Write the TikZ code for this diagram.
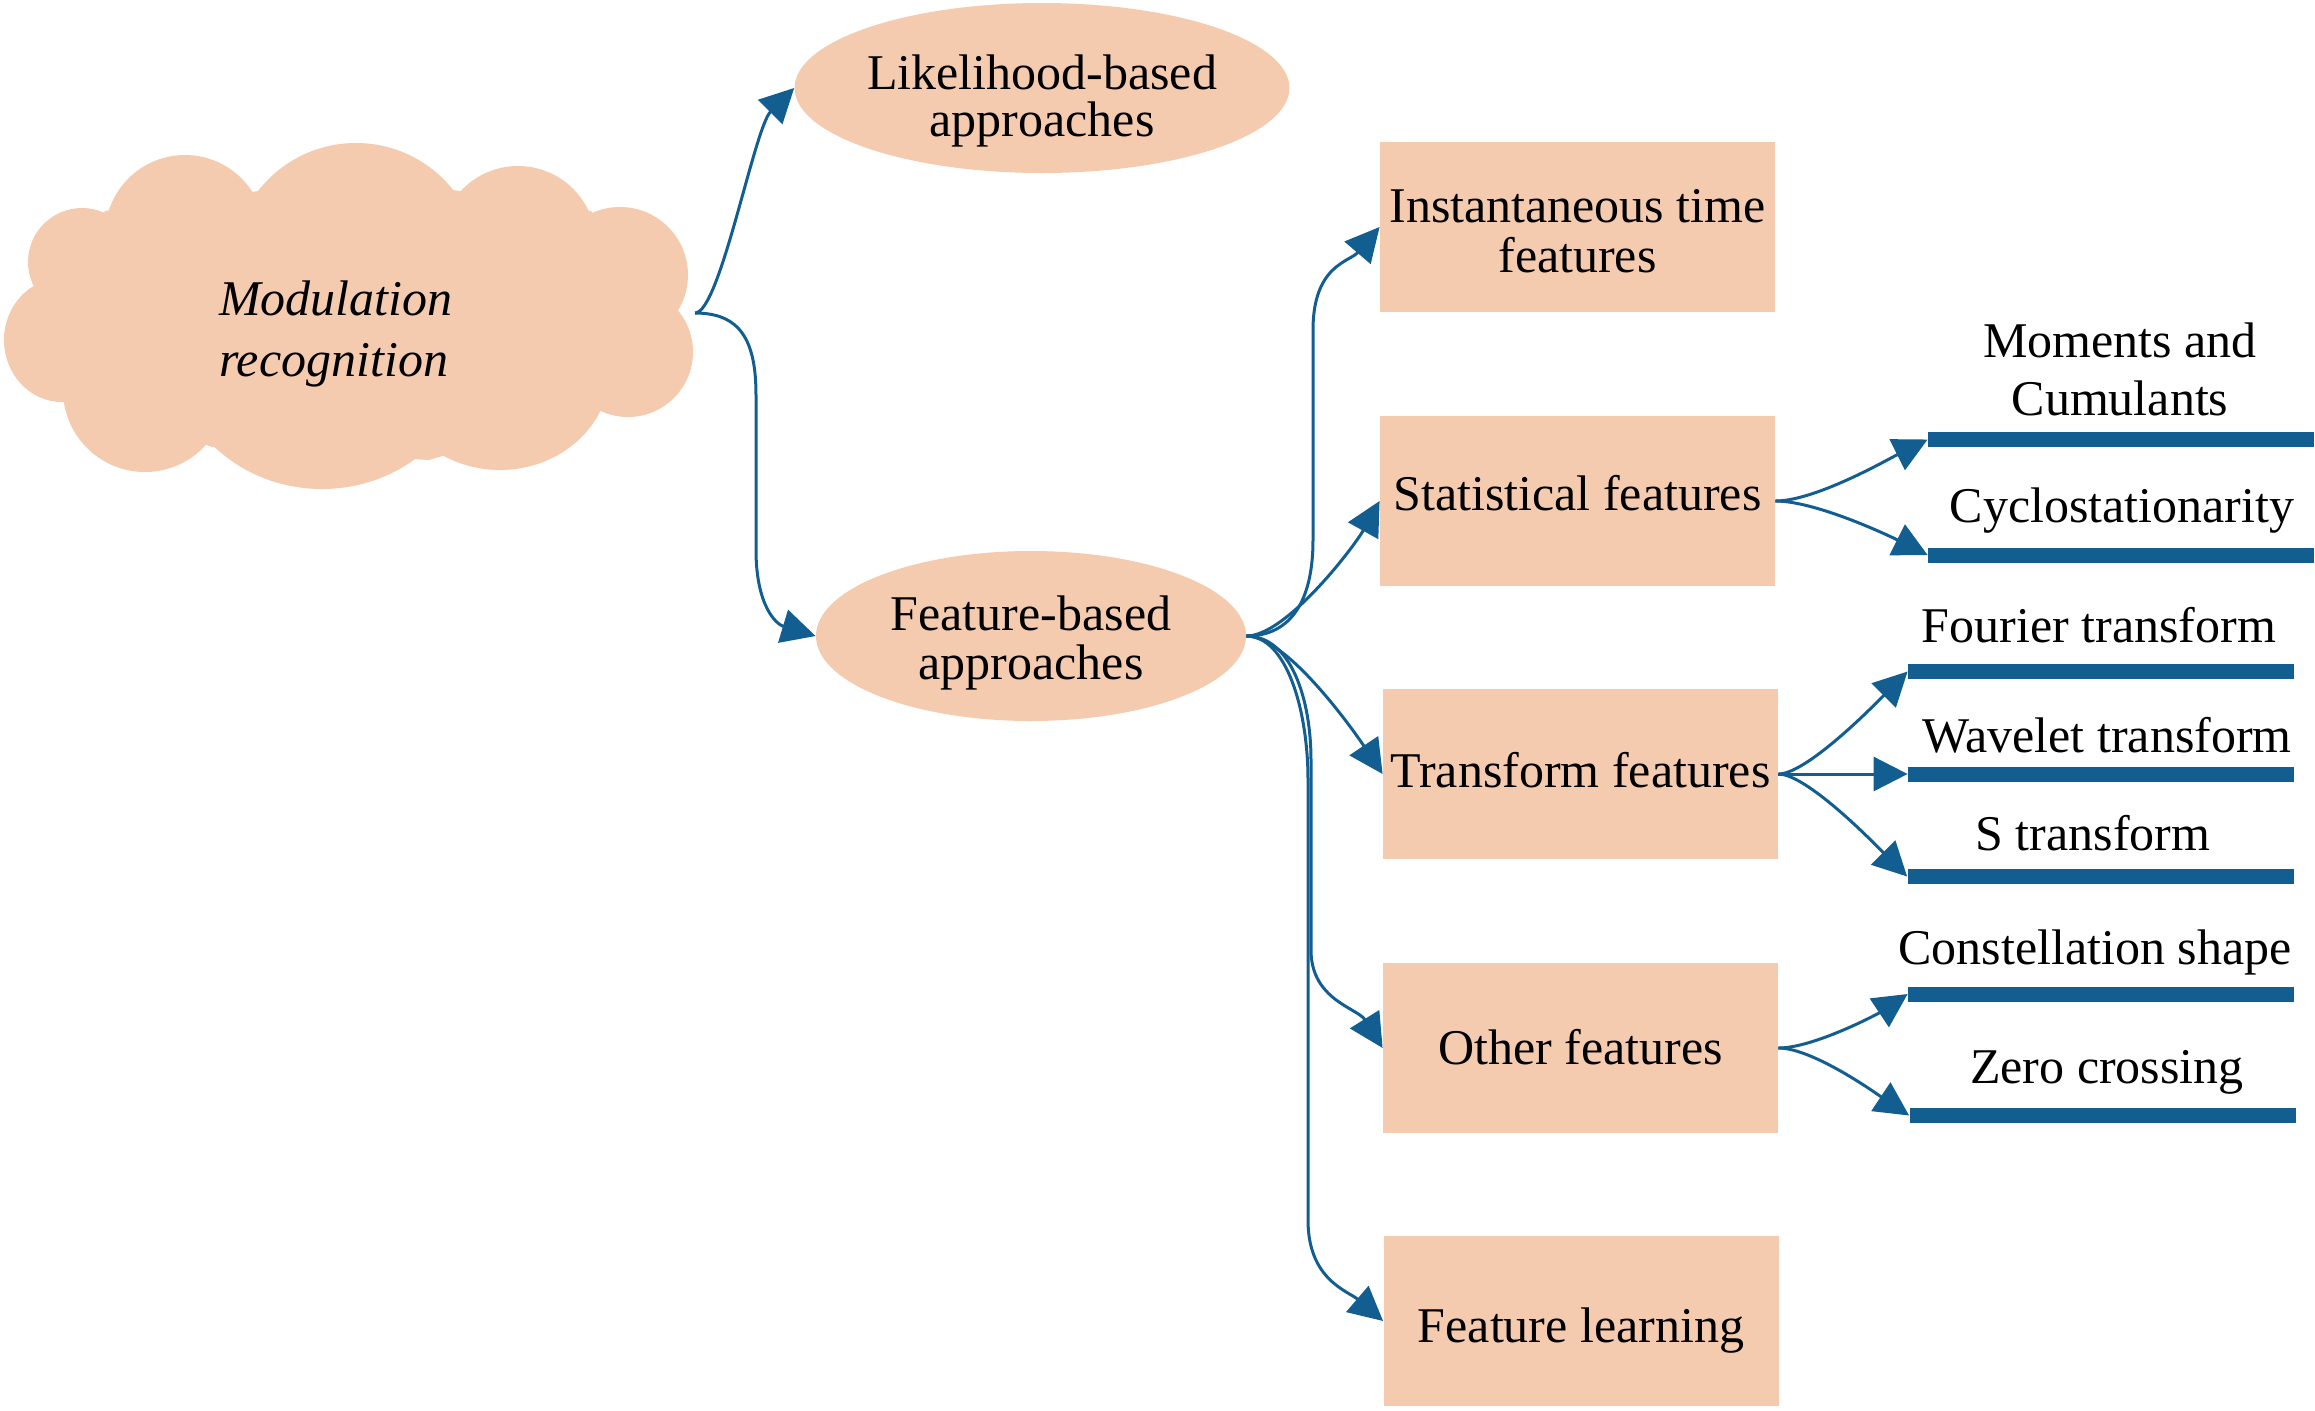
\documentclass[tikz,border=0pt]{standalone}
\usepackage{fontspec}
\setmainfont{Liberation Serif}
\usetikzlibrary{arrows.meta,shapes.geometric}
\definecolor{peach}{RGB}{244,203,175}
\definecolor{navy}{RGB}{19,94,145}
\begin{document}
\begin{tikzpicture}[x=0.5pt,y=-0.5pt,
  ell/.style={ellipse, fill=peach, minimum width=215pt, minimum height=85pt, inner sep=0pt, align=center, font=\fontsize{25}{24}\selectfont},
  box/.style={rectangle, fill=peach, minimum width=197.5pt, minimum height=85pt, inner sep=0pt, align=center, font=\fontsize{25}{25}\selectfont},
  bar/.style={rectangle, fill=navy, minimum width=193pt, minimum height=7.5pt, inner sep=0pt},
  lbl/.style={inner sep=0pt, font=\fontsize{25}{29}\selectfont, align=center, anchor=base},
  conn/.style={draw=navy, line width=1.5pt, -{Triangle[length=17pt,width=17pt]}},
]
\useasboundingbox (0,0) rectangle (2315,1410);
% cloud
\fill[peach] (105,211) -- (259,191) -- (453,190) -- (591,211) -- (654,303) -- (601,408) -- (429,460) -- (212,447) -- (61,389) -- (62,291) -- cycle;
\fill[peach] (185,235) circle[radius=40pt];
\fill[peach] (356,267) circle[radius=62pt];
\fill[peach] (518,244) circle[radius=39pt];
\fill[peach] (620,275) circle[radius=34pt];
\fill[peach] (628,352) circle[radius=32.5pt];
\fill[peach] (500,370) ellipse[x radius=55pt, y radius=50pt];
\fill[peach] (322,350) ellipse[x radius=75pt, y radius=69.5pt];
\fill[peach] (145,390) circle[radius=41pt];
\fill[peach] (62,340) ellipse[x radius=29pt, y radius=31pt];
\fill[peach] (82,262) circle[radius=27pt];
\node[inner sep=0pt, font=\itshape\fontsize{25}{30.5}\selectfont, align=left, anchor=base] (mod) at (336,376) {Modulation\\recognition};
\coordinate (cloudE) at (695,313);

% ellipses
\node[ell, font=\fontsize{25}{23.5}\selectfont, text height=50pt, text depth=2pt] (lik) at (1042,88) {Likelihood-based\\approaches};
\node[ell, font=\fontsize{25}{24.5}\selectfont, text height=45.5pt, text depth=2.5pt] (feat) at (1031,636) {Feature-based\\approaches};

% boxes
\node[box, text height=47.5pt, text depth=2.5pt] (inst) at (1577.5,227) {Instantaneous time\\features};
\node[box, text height=15pt, text depth=6pt] (stat) at (1577.5,501) {Statistical features};
\node[box, text height=16pt, text depth=2.5pt] (trans) at (1580.5,774) {Transform features};
\node[box, text height=17pt, text depth=1pt] (other) at (1580.5,1048) {Other features};
\node[box, text height=21pt, text depth=0pt] (fl) at (1581,1321) {Feature learning};

% bars
\node[bar] (m1bar) at (2121,439.5) {};
\node[bar] (m2bar) at (2121,555) {};
\node[bar] (fbar) at (2101,671.5) {};
\node[bar] (wbar) at (2101,774) {};
\node[bar] (sbar) at (2100.5,876.5) {};
\node[bar] (cbar) at (2101,994) {};
\node[bar] (zbar) at (2102.5,1115.5) {};

% labels
\node[lbl] (mom) at (2120,415) {Moments and\\Cumulants};
\node[lbl] (cyc) at (2122,522) {Cyclostationarity};
\node[lbl] (fou) at (2099,642) {Fourier transform};
\node[lbl] (wav) at (2107,752) {Wavelet transform};
\node[lbl] (str) at (2093,850) {S transform};
\node[lbl] (con) at (2095,964) {Constellation shape};
\node[lbl] (zer) at (2107,1083) {Zero crossing};

% connectors
\draw[conn] (cloudE) .. controls +(25,0) and +(-40,40) .. (lik.west);
\draw[conn] (cloudE) .. controls +(45,0) and +(0,-55) .. (756,395) -- (756,550) .. controls +(0,55) and +(-40,-12) .. (feat.west);

\draw[conn] (feat.east) .. controls +(45,0) and +(0,60) .. (1313,540) -- (1313,330) .. controls +(0,-65) and +(-30,35) .. (inst.west);
\draw[conn] (feat.east) .. controls +(40,0) and +(-25,45) .. (stat.west);
\draw[conn] (feat.east) .. controls +(40,0) and +(-30,-45) .. (trans.west);
\draw[conn] (feat.east) .. controls +(45,0) and +(0,-60) .. (1311,760) -- (1311,950) .. controls +(0,50) and +(-25,-40) .. (other.west);
\draw[conn] (feat.east) .. controls +(40,0) and +(0,-70) .. (1308,780) -- (1308,1220) .. controls +(0,60) and +(-35,-30) .. (fl.west);

\draw[conn] (stat.east) .. controls +(40,0) and +(-40,20) .. (m1bar.west);
\draw[conn] (stat.east) .. controls +(40,0) and +(-40,-20) .. (m2bar.west);
\draw[conn] (trans.east) .. controls +(30,0) and +(-25,25) .. (fbar.west);
\draw[conn] (trans.east) -- (wbar.west);
\draw[conn] (trans.east) .. controls +(30,0) and +(-25,-25) .. (sbar.west);
\draw[conn] (other.east) .. controls +(35,0) and +(-30,20) .. (cbar.west);
\draw[conn] (other.east) .. controls +(35,0) and +(-30,-20) .. (zbar.west);
\end{tikzpicture}
\end{document}
